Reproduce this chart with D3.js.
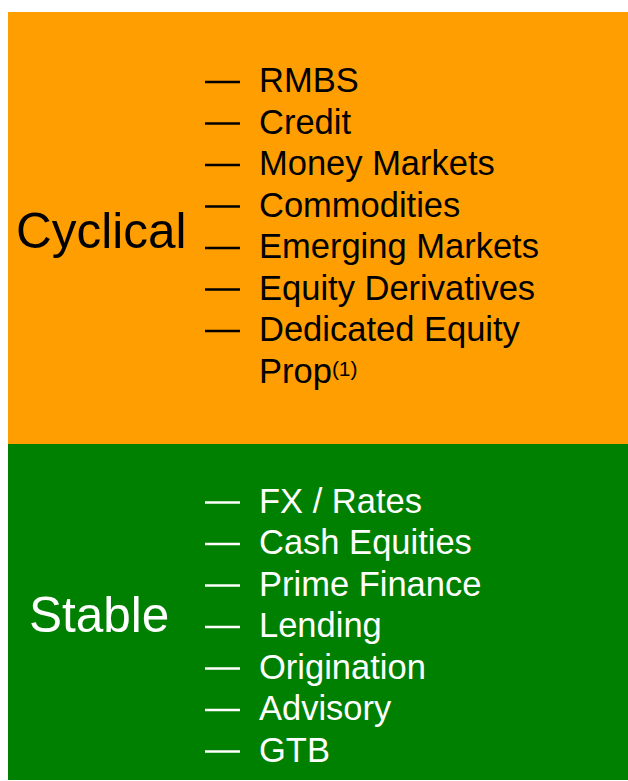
<!DOCTYPE html>
<html>
<head>
<meta charset="utf-8">
<script src="https://cdn.jsdelivr.net/npm/d3@7"></script>
<style>
  html, body { margin: 0; padding: 0; background: #ffffff; }
  svg { display: block; }
  text { font-family: "Liberation Sans", Arial, sans-serif; }
</style>
</head>
<body>
<svg id="chart" width="628" height="781"></svg>
<script>
// ---- data ----
const groups = ["Cyclical", "Stable"];
const cyclicalItems = ["RMBS", "Credit", "Money Markets", "Commodities", "Emerging Markets", "Equity Derivatives", "Dedicated Equity Prop"];
const cyclicalNotes = ["", "", "", "", "", "", "(1)"];
const stableItems = ["FX / Rates", "Cash Equities", "Prime Finance", "Lending", "Origination", "Advisory", "GTB"];
const stableNotes = ["", "", "", "", "", "", ""];

// ---- layout ----
const svg = d3.select("#chart");
const W = 628;
const panels = [
  { name: groups[0], items: cyclicalItems, notes: cyclicalNotes, y0: 12, y1: 444, fill: "#ff9e00", ink: "#000000", labelX: 16, labelY: 248, firstBase: 92 },
  { name: groups[1], items: stableItems, notes: stableNotes, y0: 444, y1: 780, fill: "#008000", ink: "#ffffff", labelX: 29, labelY: 632, firstBase: 512.5 }
];
const lineStep = 41.5;
const itemFont = 34.5;
const labelFont = 49.5;
const wrapWidth = 300;

panels.forEach(p => {
  svg.append("rect")
    .attr("x", 8).attr("y", p.y0)
    .attr("width", W - 8).attr("height", p.y1 - p.y0)
    .attr("fill", p.fill);

  svg.append("text")
    .attr("x", p.labelX).attr("y", p.labelY)
    .attr("font-size", labelFont)
    .attr("fill", p.ink)
    .text(p.name);

  // build wrapped lines
  const measurer = svg.append("text").attr("font-size", itemFont).attr("visibility", "hidden");
  const lines = [];
  p.items.forEach((item, i) => {
    const words = item.split(" ");
    let cur = [];
    const itemLines = [];
    words.forEach(w => {
      const test = cur.concat([w]).join(" ");
      measurer.text(test);
      if (cur.length && measurer.node().getComputedTextLength() > wrapWidth) {
        itemLines.push(cur.join(" "));
        cur = [w];
      } else {
        cur.push(w);
      }
    });
    itemLines.push(cur.join(" "));
    itemLines.forEach((t, k) => lines.push({ text: t, first: k === 0, note: k === itemLines.length - 1 ? p.notes[i] : "" }));
  });
  measurer.remove();

  const y = d3.scaleLinear().domain([0, 1]).range([p.firstBase, p.firstBase + lineStep]);

  const g = svg.append("g");
  lines.forEach((ln, idx) => {
    const base = y(idx);
    if (ln.first) {
      g.append("line")
        .attr("x1", 205).attr("x2", 240)
        .attr("y1", base - 10).attr("y2", base - 10)
        .attr("stroke", p.ink).attr("stroke-width", 2.5);
    }
    const t = g.append("text")
      .attr("x", 259).attr("y", base)
      .attr("font-size", itemFont)
      .attr("fill", p.ink)
      .text(ln.text);
    if (ln.note) {
      t.append("tspan")
        .attr("font-size", 21)
        .attr("dy", -7)
        .text(ln.note);
    }
  });
});
</script>
</body>
</html>
